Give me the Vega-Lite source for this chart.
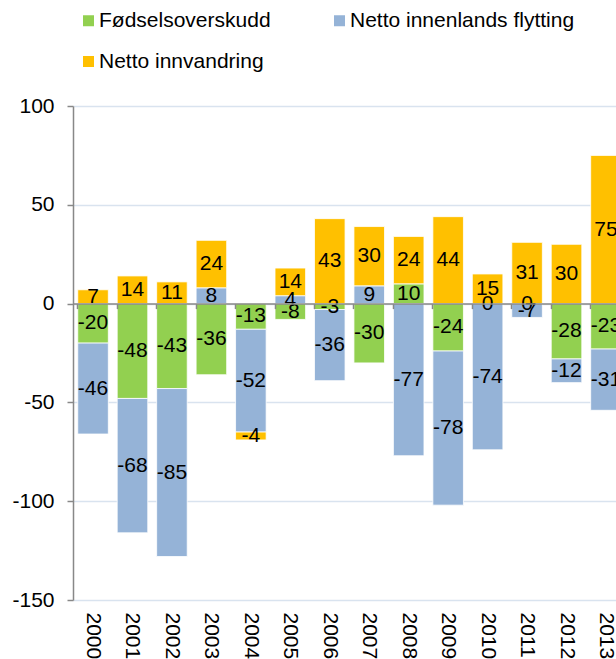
{
  "$schema": "https://vega.github.io/schema/vega-lite/v6.json",
  "width": 543,
  "height": 494,
  "autosize": "none",
  "padding": {"left": 73, "top": 106, "right": 0, "bottom": 59},
  "background": "white",
  "config": {
    "view": {"stroke": null},
    "font": "Liberation Sans"
  },
  "data": {
    "values": [
      {"year": "2000", "type": "Fødselsoverskudd", "value": -20},
      {"year": "2000", "type": "Netto innenlands flytting", "value": -46},
      {"year": "2000", "type": "Netto innvandring", "value": 7},
      {"year": "2001", "type": "Fødselsoverskudd", "value": -48},
      {"year": "2001", "type": "Netto innenlands flytting", "value": -68},
      {"year": "2001", "type": "Netto innvandring", "value": 14},
      {"year": "2002", "type": "Fødselsoverskudd", "value": -43},
      {"year": "2002", "type": "Netto innenlands flytting", "value": -85},
      {"year": "2002", "type": "Netto innvandring", "value": 11},
      {"year": "2003", "type": "Fødselsoverskudd", "value": -36},
      {"year": "2003", "type": "Netto innenlands flytting", "value": 8},
      {"year": "2003", "type": "Netto innvandring", "value": 24},
      {"year": "2004", "type": "Fødselsoverskudd", "value": -13},
      {"year": "2004", "type": "Netto innenlands flytting", "value": -52},
      {"year": "2004", "type": "Netto innvandring", "value": -4},
      {"year": "2005", "type": "Fødselsoverskudd", "value": -8},
      {"year": "2005", "type": "Netto innenlands flytting", "value": 4},
      {"year": "2005", "type": "Netto innvandring", "value": 14},
      {"year": "2006", "type": "Fødselsoverskudd", "value": -3},
      {"year": "2006", "type": "Netto innenlands flytting", "value": -36},
      {"year": "2006", "type": "Netto innvandring", "value": 43},
      {"year": "2007", "type": "Fødselsoverskudd", "value": -30},
      {"year": "2007", "type": "Netto innenlands flytting", "value": 9},
      {"year": "2007", "type": "Netto innvandring", "value": 30},
      {"year": "2008", "type": "Fødselsoverskudd", "value": 10},
      {"year": "2008", "type": "Netto innenlands flytting", "value": -77},
      {"year": "2008", "type": "Netto innvandring", "value": 24},
      {"year": "2009", "type": "Fødselsoverskudd", "value": -24},
      {"year": "2009", "type": "Netto innenlands flytting", "value": -78},
      {"year": "2009", "type": "Netto innvandring", "value": 44},
      {"year": "2010", "type": "Fødselsoverskudd", "value": 0},
      {"year": "2010", "type": "Netto innenlands flytting", "value": -74},
      {"year": "2010", "type": "Netto innvandring", "value": 15},
      {"year": "2011", "type": "Fødselsoverskudd", "value": 0},
      {"year": "2011", "type": "Netto innenlands flytting", "value": -7},
      {"year": "2011", "type": "Netto innvandring", "value": 31},
      {"year": "2012", "type": "Fødselsoverskudd", "value": -28},
      {"year": "2012", "type": "Netto innenlands flytting", "value": -12},
      {"year": "2012", "type": "Netto innvandring", "value": 30},
      {"year": "2013", "type": "Fødselsoverskudd", "value": -23},
      {"year": "2013", "type": "Netto innenlands flytting", "value": -31},
      {"year": "2013", "type": "Netto innvandring", "value": 75}
    ]
  },
  "transform": [
    {"stack": "value", "groupby": ["year"], "sort": [{"field": "type", "order": "ascending"}], "as": ["v0", "v1"], "offset": "zero"},
    {"calculate": "(datum.v0 + datum.v1) / 2", "as": "mid"}
  ],
  "layer": [
    {
      "mark": {"type": "bar", "stroke": "#ffffff", "strokeWidth": 0.8},
      "encoding": {
        "x": {
          "field": "year", "type": "ordinal",
          "scale": {"type": "band", "paddingInner": 0.225, "paddingOuter": 0.12, "range": [0, 553]},
          "axis": {"orient": "bottom", "title": null, "labelAngle": 90, "labelAlign": "left", "labelBaseline": "middle", "labelFontSize": 21, "labelColor": "#000000", "labelPadding": 12, "domain": false, "ticks": false, "grid": false}
        },
        "y": {
          "field": "v0", "type": "quantitative",
          "scale": {"domain": [-150, 100], "nice": false, "zero": false},
          "axis": {"title": null, "values": [-150, -100, -50, 0, 50, 100], "labelExpr": "'' + datum.value", "grid": true, "gridColor": "#D9E3EF", "gridWidth": 1.5, "domainColor": "#888888", "domainWidth": 1.5, "tickColor": "#888888", "tickWidth": 1.5, "tickSize": 6, "labelFontSize": 21, "labelColor": "#000000", "labelPadding": 13}
        },
        "y2": {"field": "v1"},
        "color": {
          "field": "type", "type": "nominal",
          "scale": {"domain": ["Fødselsoverskudd", "Netto innenlands flytting", "Netto innvandring"], "range": ["#92D050", "#95B3D7", "#FFC000"]},
          "legend": {"title": null, "orient": "none", "legendX": 5, "legendY": -96, "direction": "horizontal", "columns": 2, "columnPadding": 58, "rowPadding": 19, "symbolType": "square", "symbolSize": 121, "symbolStrokeWidth": 0, "labelFontSize": 21, "labelColor": "#000000", "labelOffset": 0, "labelLimit": 400, "padding": 0}
        }
      }
    },
    {
      "mark": {"type": "text", "fontSize": 21, "color": "#000000", "align": "center", "baseline": "middle", "zindex": 2},
      "encoding": {
        "x": {
          "field": "year", "type": "ordinal",
          "axis": {"orient": "top", "offset": -197.6, "title": null, "labels": false, "grid": false, "domainColor": "#888888", "domainWidth": 1.5, "tickColor": "#888888", "tickWidth": 1.5, "tickSize": -5, "bandPosition": 0, "zindex": 1}
        },
        "y": {"field": "mid", "type": "quantitative"},
        "text": {"field": "value", "type": "nominal"}
      }
    }
  ],
  "resolve": {"axis": {"x": "independent"}}
}
